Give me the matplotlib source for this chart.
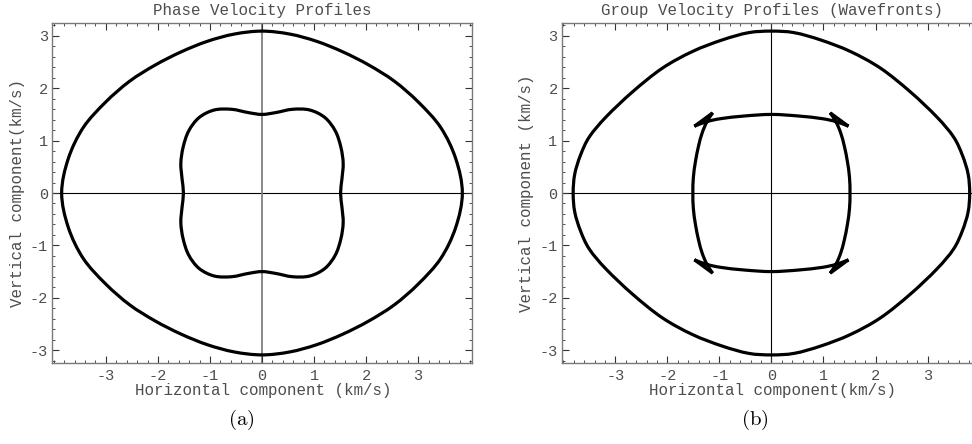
import numpy as np
import matplotlib
matplotlib.use("Agg")
import matplotlib.pyplot as plt
from matplotlib.ticker import MultipleLocator
from matplotlib.path import Path
from matplotlib.patches import PathPatch

plt.rcParams['font.family'] = ['Liberation Mono', 'DejaVu Sans Mono']
plt.rcParams['axes.unicode_minus'] = False
plt.rcParams['mathtext.fontset'] = 'cm'

# ---- data (first quadrant, km/s) ----
# Panel (a): phase velocities as radius at each propagation angle (deg from horizontal)
phase_angle_deg = [0, 10, 20, 30, 40, 50, 60, 70, 80, 90]
phase_outer_r = [3.85, 3.78, 3.655, 3.47, 3.32, 3.19, 3.11, 3.08, 3.08, 3.09]   # qP
phase_inner_r = [1.51, 1.56, 1.66, 1.75, 1.84, 1.88, 1.83, 1.70, 1.56, 1.50]    # qSV
# Panel (b): group velocity, outer (qP) wavefront (x, y)
group_outer_x = [0.00, 0.44, 0.95, 1.52, 2.10, 2.67, 3.18, 3.50, 3.67, 3.78, 3.81]
group_outer_y = [3.09, 3.06, 2.92, 2.70, 2.38, 1.93, 1.45, 1.07, 0.72, 0.36, 0.00]
# Panel (b): group velocity, inner (qSV) wavefront with cusps (path order)
group_inner_x = [0.00, 0.52, 0.97, 1.25, 1.48, 1.13, 1.24, 1.33, 1.40, 1.46, 1.50, 1.51]
group_inner_y = [1.50, 1.47, 1.42, 1.36, 1.275, 1.53, 1.36, 1.15, 0.90, 0.60, 0.30, 0.00]
group_inner_cusps = [4, 5]   # indices of the cusp tips in the list above

major_ticks = [-3, -2, -1, 0, 1, 2, 3]


def polar_to_xy(angle_deg, r):
    a = np.deg2rad(np.asarray(angle_deg, float))[::-1]   # top -> right
    rr = np.asarray(r, float)[::-1]
    return rr * np.cos(a), rr * np.sin(a)


def closed_loop(qx, qy, cusps=()):
    """Mirror first-quadrant points (top -> right) into a closed loop."""
    q = list(zip(qx, qy))
    n = len(q)
    pts, corner = [], []
    cs = set(cusps)
    for i, p in enumerate(q):                      # Q1
        pts.append(p); corner.append(i in cs)
    for i in range(n - 2, -1, -1):                 # Q4
        x, y = q[i]; pts.append((x, -y)); corner.append(i in cs)
    for i in range(1, n):                          # Q3
        x, y = q[i]; pts.append((-x, -y)); corner.append(i in cs)
    for i in range(n - 2, 0, -1):                  # Q2
        x, y = q[i]; pts.append((-x, y)); corner.append(i in cs)
    return np.array(pts), corner


def smooth_path(pts, corner):
    m = len(pts)
    verts = [pts[0]]
    codes = [Path.MOVETO]
    for i in range(m):
        j = (i + 1) % m
        p0, p1 = pts[i], pts[j]
        t0 = (p1 - p0) if corner[i] else (pts[j] - pts[i - 1]) / 2
        t1 = (p1 - p0) if corner[j] else (pts[(j + 1) % m] - pts[i]) / 2
        verts += [p0 + t0 / 3, p1 - t1 / 3, p1]
        codes += [Path.CURVE4] * 3
    return Path(verts, codes)


TXT = '#4d4d4d'
FRAME = '#7a7a7a'

fig = plt.figure(figsize=(9.72, 4.44), dpi=100)
ax1 = fig.add_axes([0.0538, 0.1818, 0.4315, 0.767])
ax2 = fig.add_axes([0.5779, 0.1818, 0.4315, 0.767])

po_x, po_y = polar_to_xy(phase_angle_deg, phase_outer_r)
pi_x, pi_y = polar_to_xy(phase_angle_deg, phase_inner_r)

panels = [
    (ax1, [(po_x, po_y, ()), (pi_x, pi_y, ())], '#808080', 1.3),
    (ax2, [(group_outer_x, group_outer_y, ()),
           (group_inner_x, group_inner_y, group_inner_cusps)], 'black', 0.8),
]
for ax, curves, vcol, vlw in panels:
    ax.set_xlim(-4.03, 4.03)
    ax.set_ylim(-3.25, 3.25)
    ax.axhline(0, color='black', lw=0.8, zorder=1)
    ax.axvline(0, color=vcol, lw=vlw, zorder=1)
    for qx, qy, cusps in curves:
        pts, corner = closed_loop(qx, qy, cusps)
        ax.add_patch(PathPatch(smooth_path(pts, corner), facecolor='none',
                               edgecolor='black', lw=2.3, joinstyle='miter', zorder=3))
    ax.xaxis.set_minor_locator(MultipleLocator(0.2))
    ax.yaxis.set_minor_locator(MultipleLocator(0.2))
    ax.set_xticks(major_ticks)
    ax.set_yticks(major_ticks)
    ax.tick_params(which='both', direction='in', top=True, right=True,
                   color='#333333', labelcolor=TXT, labelsize=11)
    ax.tick_params(which='major', length=5, width=0.8)
    ax.tick_params(which='minor', length=2.5, width=0.6)
    ax.tick_params(axis='x', pad=4)
    ax.tick_params(axis='y', pad=3)
    for s in ax.spines.values():
        s.set_color(FRAME)
        s.set_linewidth(1.0)

fig.text(0.2693, 1 - 11 / 444, 'Phase Velocity Profiles', ha='center', va='center',
         fontsize=11.4, color=TXT)
fig.text(0.7947, 1 - 11 / 444, 'Group Velocity Profiles (Wavefronts)', ha='center',
         va='center', fontsize=11.4, color=TXT)
fig.text(0.2704, 0.120, 'Horizontal component (km/s)', ha='center', va='center',
         fontsize=11.4, color=TXT)
fig.text(0.7947, 0.120, 'Horizontal component(km/s)', ha='center', va='center',
         fontsize=11.4, color=TXT)
fig.text(0.0185, 0.565, 'Vertical component(km/s)', ha='center', va='center',
         rotation=90, fontsize=11.4, color=TXT)
fig.text(0.5419, 0.565, 'Vertical component (km/s)', ha='center', va='center',
         rotation=90, fontsize=11.4, color=TXT)
fig.text(0.2487, 0.054, r'$\mathrm{(a)}$', ha='center', va='center', fontsize=15, color='black')
fig.text(0.7767, 0.054, r'$\mathrm{(b)}$', ha='center', va='center', fontsize=15, color='black')

fig.savefig('out.png', dpi=100)
